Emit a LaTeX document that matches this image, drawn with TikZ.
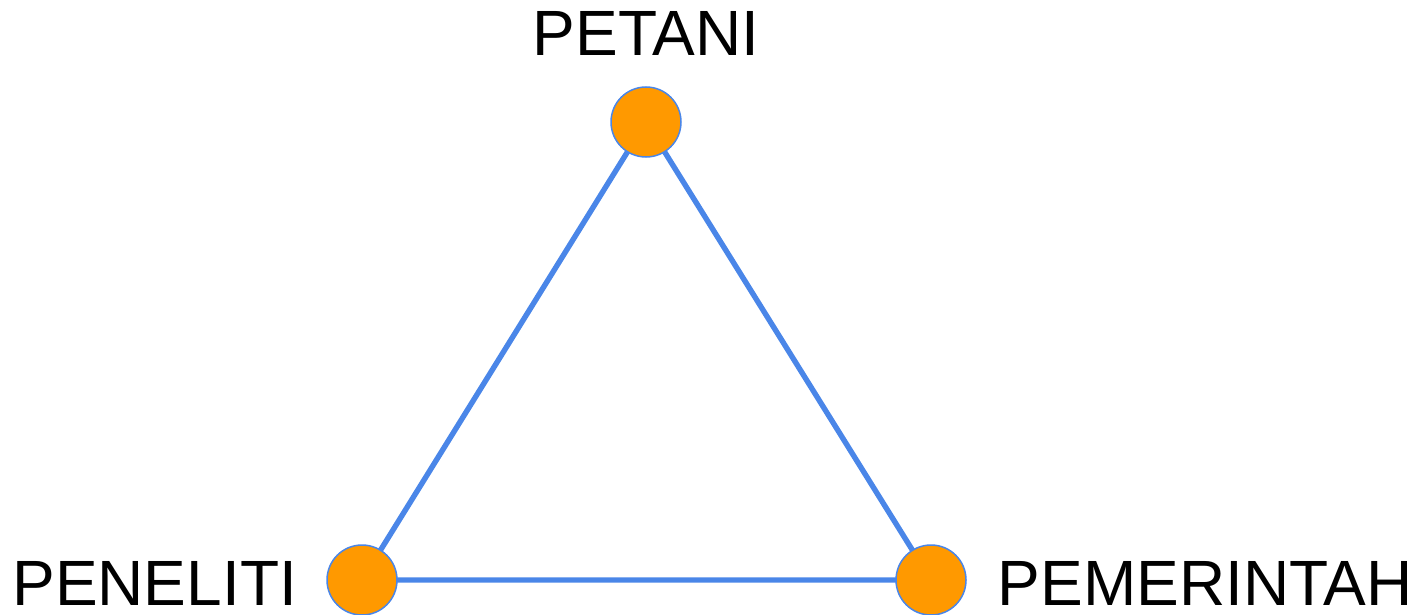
\documentclass[tikz,border=0pt]{standalone}
\usepackage{fontspec}
\setmainfont{Liberation Sans}
\usetikzlibrary{backgrounds}
\definecolor{lineblue}{HTML}{4A86E8}
\definecolor{dotorange}{HTML}{FF9900}
\begin{document}
\begin{tikzpicture}[
    x=0.5pt, y=-0.5pt,
    % Réglages des points et des liens
    actor/.style={circle, fill=dotorange, draw=lineblue, line width=0.75pt,
                  minimum size=35pt, inner sep=0pt},
    role/.style={inner sep=0pt, text depth=0pt, font=\fontsize{32}{36}\selectfont},
    link/.style={draw=lineblue, line width=2.7pt}
]
\useasboundingbox (0,0) rectangle (1428,615);
% Les trois acteurs
\node[actor] (petani) at (646,122) {};
\node[actor] (peneliti) at (362,580) {};
\node[actor] (pemerintah) at (931,580) {};
% Les noms
\node[role, anchor=base] (petanitext) at (646,56) {PETANI};
\node[role, anchor=base west] (penelititext) at (12,605) {PENELITI};
\node[role, anchor=base east] (pemerintahtext) at (1413,605) {PEMERINTAH};
% Les liens
\begin{scope}[on background layer]
\draw[link] (petani.center) -- (peneliti.center) -- (pemerintah.center) -- (petani.center);
\end{scope}
\end{tikzpicture}
\end{document}
